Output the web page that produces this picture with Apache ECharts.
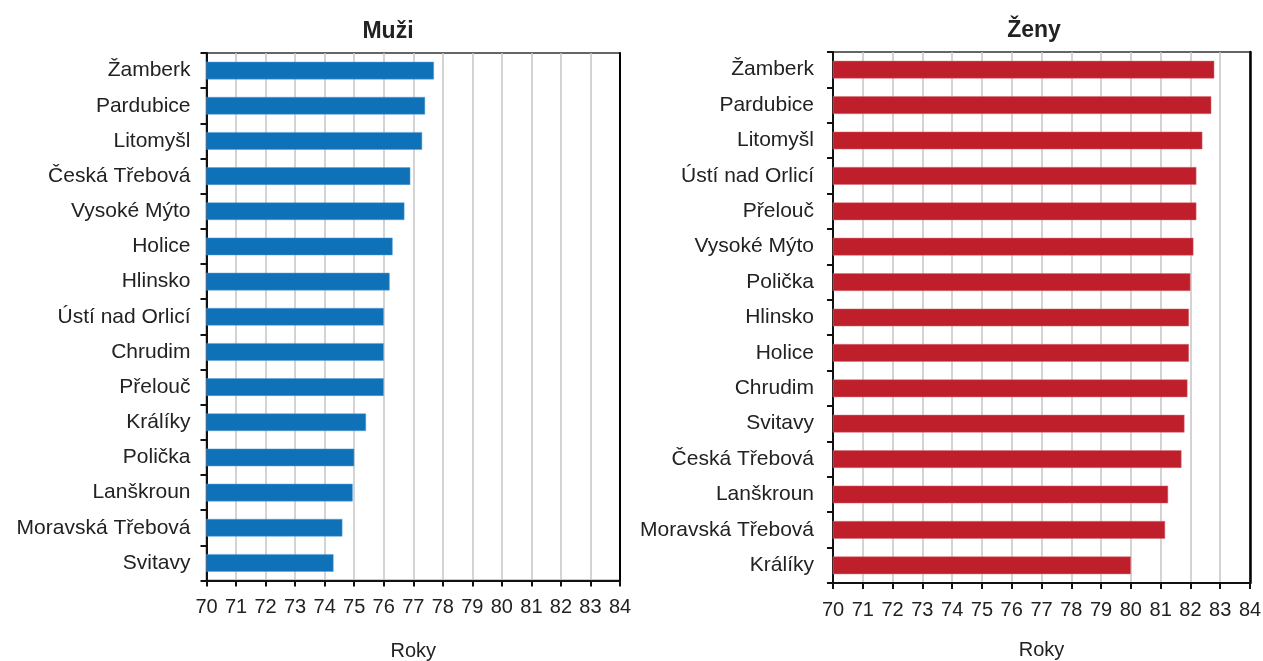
<!DOCTYPE html>
<html>
<head>
<meta charset="utf-8">
<script src="https://cdn.jsdelivr.net/npm/echarts@6/dist/echarts.min.js"></script>
<style>
html,body{margin:0;padding:0;background:#fff;width:1263px;height:661px;overflow:hidden;}
#chart{width:1263px;height:661px;}
</style>
</head>
<body>
<div id="chart"></div>
<script>
const menCategories = ["Žamberk","Pardubice","Litomyšl","Česká Třebová","Vysoké Mýto","Holice","Hlinsko","Ústí nad Orlicí","Chrudim","Přelouč","Králíky","Polička","Lanškroun","Moravská Třebová","Svitavy"];
const menValues = [77.7,77.4,77.3,76.9,76.7,76.3,76.2,76.0,76.0,76.0,75.4,75.0,74.95,74.6,74.3];
const womenCategories = ["Žamberk","Pardubice","Litomyšl","Ústí nad Orlicí","Přelouč","Vysoké Mýto","Polička","Hlinsko","Holice","Chrudim","Svitavy","Česká Třebová","Lanškroun","Moravská Třebová","Králíky"];
const womenValues = [82.8,82.7,82.4,82.2,82.2,82.1,82.0,81.95,81.95,81.9,81.8,81.7,81.25,81.15,80.0];
const titles = ["Muži","Ženy"];
const axisName = "Roky";

const FONT = "Liberation Sans, Arial, sans-serif";
const chart = echarts.init(document.getElementById('chart'), null, {renderer:'canvas', width:1263, height:661});

function xAx(gridIndex, nameGap){
  return {
    type:'value', gridIndex, min:70, max:84, interval:1,
    name: axisName, nameLocation:'middle', nameGap:nameGap,
    nameTextStyle:{fontFamily:FONT,fontSize:20,color:'#222'},
    axisLine:{show:true,onZero:false,lineStyle:{color:'#111',width:2}},
    axisTick:{show:true,length:6,lineStyle:{color:'#111',width:2}},
    axisLabel:{fontFamily:FONT,fontSize:20,color:'#222',margin:17},
    splitLine:{show:true,lineStyle:{color:'#c4c4c4',width:1.5}}
  };
}
function yAx(gridIndex, cats, margin){
  return {
    type:'category', gridIndex, data:cats, inverse:true,
    axisLine:{show:true,lineStyle:{color:'#111',width:2}},
    axisTick:{show:true,length:6,lineStyle:{color:'#111',width:2}},
    axisLabel:{fontFamily:FONT,fontSize:21,color:'#222',margin:margin},
    splitLine:{show:false}
  };
}

chart.setOption({
  animation:false,
  backgroundColor:'#fff',
  title:[
    {text:titles[0],left:383,top:15,textAlign:'center',textStyle:{fontFamily:FONT,fontSize:23,fontWeight:'bold',color:'#222'}},
    {text:titles[1],left:1029,top:14,textAlign:'center',textStyle:{fontFamily:FONT,fontSize:23,fontWeight:'bold',color:'#222'}}
  ],
  grid:[
    {left:206.5,top:53,width:413.5,height:527.5,show:true,borderColor:'#333',borderWidth:1.5,outerBoundsMode:'none',containLabel:false},
    {left:833,top:52,width:417,height:531,show:true,borderColor:'#333',borderWidth:1.5,outerBoundsMode:'none',containLabel:false}
  ],
  xAxis:[xAx(0,61),xAx(1,57)],
  yAxis:[yAx(0,menCategories,16),yAx(1,womenCategories,19),
    {type:'value',gridIndex:0,position:'right',axisLine:{show:true,lineStyle:{color:'#000',width:2}},axisTick:{show:false},axisLabel:{show:false},splitLine:{show:false}},
    {type:'value',gridIndex:1,position:'right',axisLine:{show:true,lineStyle:{color:'#000',width:2.5}},axisTick:{show:false},axisLabel:{show:false},splitLine:{show:false}}
  ],
  series:[
    {type:'bar',xAxisIndex:0,yAxisIndex:0,data:menValues,barWidth:'50%',itemStyle:{color:'#0F71B8',borderColor:'#5a9fd6',borderWidth:0.5}},
    {type:'bar',xAxisIndex:1,yAxisIndex:1,data:womenValues,barWidth:'50%',itemStyle:{color:'#BE1F2A',borderColor:'#d8707a',borderWidth:0.5}}
  ]
});
</script>
</body>
</html>
